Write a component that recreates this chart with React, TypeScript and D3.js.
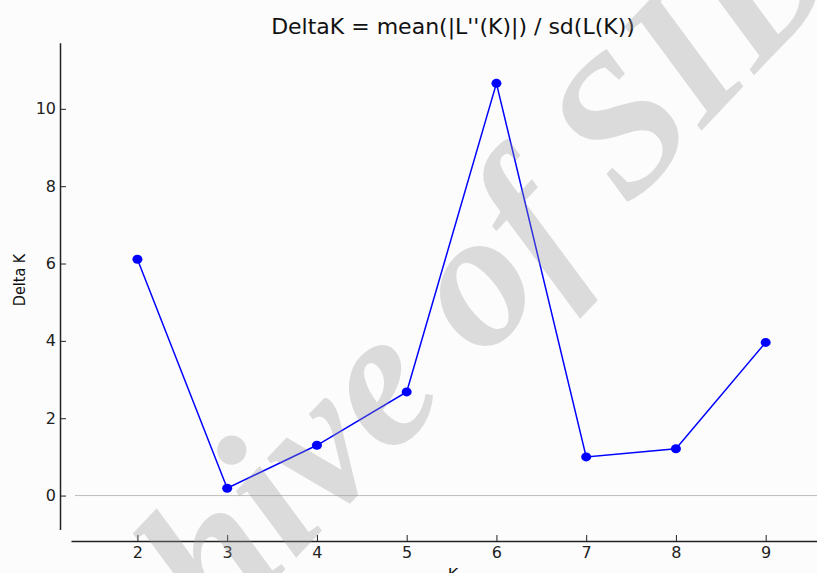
import { useEffect, useRef } from 'react';
import * as d3 from 'd3';

const kValues = [2, 3, 4, 5, 6, 7, 8, 9];
const deltaK = [6.11, 0.19, 1.3, 2.68, 10.66, 1.0, 1.21, 3.96];
const yTicks = [0, 2, 4, 6, 8, 10];
const title = "DeltaK = mean(|L''(K)|) / sd(L(K))";

export default function App() {
  const svgRef = useRef<SVGSVGElement>(null);

  useEffect(() => {
    if (!svgRef.current) return;
    const width = 817;
    const height = 573;
    const svg = d3.select(svgRef.current);
    svg.selectAll('*').remove();
    svg.attr('width', width).attr('height', height);

    svg.append('rect').attr('width', width).attr('height', height).attr('fill', '#fcfcfc');

    const xScale = d3.scaleLinear().domain([1.26, 9.75]).range([71, 833]);
    const yScale = d3.scaleLinear().domain([-0.88, 11.71]).range([529.6, 42.7]);

    // light zero line
    svg.append('line')
      .attr('x1', 75).attr('x2', width)
      .attr('y1', yScale(0)).attr('y2', yScale(0))
      .attr('stroke', '#bdbdbd').attr('stroke-width', 1);

    // left spine, ticks pointing inward
    const yAxis = svg.append('g')
      .attr('transform', 'translate(60,0)')
      .call(d3.axisLeft(yScale).tickValues(yTicks).tickSizeInner(-6).tickSizeOuter(0).tickPadding(4));
    yAxis.select('.domain').attr('stroke', '#222').attr('stroke-width', 1.5);
    yAxis.selectAll('.tick line').attr('stroke', '#222');
    yAxis.selectAll('text')
      .attr('font-family', 'DejaVu Sans').attr('font-size', 16).attr('fill', '#222');

    // bottom spine, offset below the plot
    const xAxis = svg.append('g')
      .attr('transform', 'translate(0,541)')
      .call(d3.axisBottom(xScale).tickValues(kValues).tickFormat(d3.format('d')).tickSizeInner(-6).tickSizeOuter(0).tickPadding(6));
    xAxis.select('.domain').attr('stroke', '#222').attr('stroke-width', 1.5);
    xAxis.selectAll('.tick line').attr('stroke', '#222');
    xAxis.selectAll('text')
      .attr('font-family', 'DejaVu Sans').attr('font-size', 16).attr('fill', '#222');

    const pts = kValues.map((k, i) => [k, deltaK[i]] as [number, number]);
    const line = d3.line<[number, number]>()
      .x(d => xScale(d[0]))
      .y(d => yScale(d[1]));

    svg.append('path')
      .datum(pts)
      .attr('d', line)
      .attr('fill', 'none')
      .attr('stroke', '#0000ff')
      .attr('stroke-width', 1.5);

    svg.selectAll('.dot')
      .data(pts)
      .enter().append('ellipse')
      .attr('class', 'dot')
      .attr('cx', d => xScale(d[0]))
      .attr('cy', d => yScale(d[1]))
      .attr('rx', 5).attr('ry', 4.5)
      .attr('fill', '#0000ff');

    svg.append('text')
      .attr('x', 453).attr('y', 34)
      .attr('text-anchor', 'middle')
      .attr('font-family', 'DejaVu Sans').attr('font-size', 22)
      .attr('fill', '#111')
      .text(title);

    svg.append('text')
      .attr('transform', 'translate(25,280) rotate(-90)')
      .attr('text-anchor', 'middle')
      .attr('font-family', 'DejaVu Sans Condensed, DejaVu Sans').attr('font-size', 16)
      .attr('fill', '#111')
      .text('Delta K');

    svg.append('text')
      .attr('x', 453).attr('y', 580)
      .attr('text-anchor', 'middle')
      .attr('font-family', 'DejaVu Sans').attr('font-size', 16)
      .attr('fill', '#111')
      .text('K');

    // watermark
    svg.append('text')
      .attr('transform', 'translate(852,-28) rotate(-46.5)')
      .attr('text-anchor', 'end')
      .attr('font-family', 'Liberation Serif').attr('font-weight', 'bold').attr('font-style', 'italic')
      .attr('font-size', 195)
      .attr('fill', '#999').attr('fill-opacity', 0.33)
      .text('Archive of SID');
  }, []);

  return (
    <svg ref={svgRef} style={{ position: 'fixed', top: 0, left: 0, display: 'block' }} />
  );
}
